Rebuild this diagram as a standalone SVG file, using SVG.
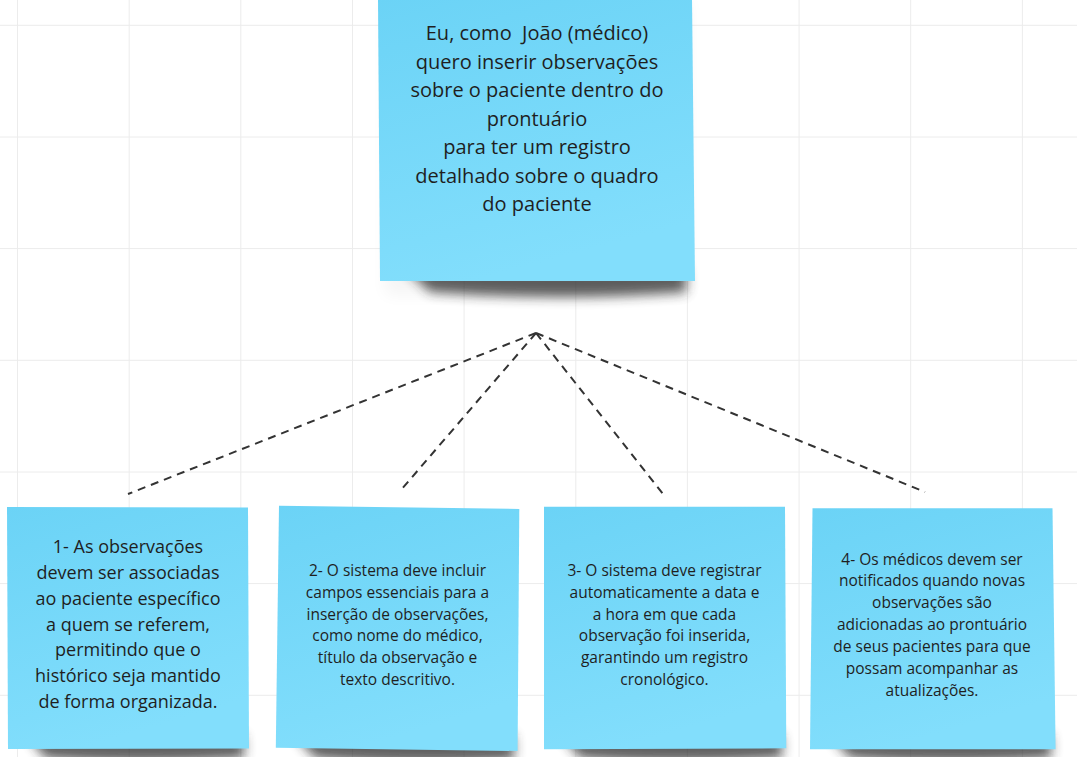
<svg xmlns="http://www.w3.org/2000/svg" width="1077" height="757" viewBox="0 0 1077 757">
<style>
.grid{stroke:#ececec;stroke-width:1;fill:none}
.note{fill:url(#noteGrad)}
.shadow{fill:#2a2a2a;opacity:0.75;filter:url(#blur)}
.glow{fill:#000;opacity:0.04;filter:url(#blurWide)}
.conn{stroke:#333;stroke-width:2;stroke-dasharray:8 6;fill:none}
.t{font-family:"Open Sans","Noto Sans","Liberation Sans",sans-serif;fill:#1f1f1f;text-anchor:middle}
.t20{font-size:20px}
.t18{font-size:18px}
.t15{font-size:15.5px}
</style>
<defs>
<linearGradient id="noteGrad" x1="0" y1="0" x2="0.3" y2="1">
<stop offset="0" stop-color="#6bd3f6"/>
<stop offset="1" stop-color="#82defc"/>
</linearGradient>
<filter id="blur" x="-20%" y="-100%" width="140%" height="300%"><feGaussianBlur stdDeviation="6"/></filter>
<filter id="blurWide" x="-20%" y="-20%" width="140%" height="140%"><feGaussianBlur stdDeviation="8"/></filter>
</defs>
<rect width="1077" height="757" fill="#ffffff"/>
<g id="grid">
<path class="grid" d="M17.5 0V757M129.2 0V757M240.8 0V757M352.5 0V757M464.1 0V757M575.8 0V757M687.4 0V757M799.1 0V757M910.7 0V757M1022.4 0V757M0 25.3H1077M0 137H1077M0 248.6H1077M0 360.3H1077M0 472H1077M0 583.6H1077M0 695.3H1077"/>
</g>
<g id="connectors">
<path class="conn" d="M536 333L128 494"/>
<path class="conn" d="M536 333L401 490"/>
<path class="conn" d="M536 333L663 494"/>
<path class="conn" d="M536 333L925 492"/>
</g>
<g id="story">
<rect class="glow" x="385" y="0" width="305" height="295"/>
<path class="shadow" d="M405 268H686V292Q560 302 430 292Z"/>
<polygon class="note" points="378,-2 692,-2 695,281 380,281"/>
<text class="t t20" style="white-space:pre" x="537" y="40">Eu, como  João (médico)</text>
<text class="t t20" x="537" y="68.5">quero inserir observações</text>
<text class="t t20" x="537" y="97">sobre o paciente dentro do</text>
<text class="t t20" x="537" y="125.5">prontuário</text>
<text class="t t20" x="537" y="154">para ter um registro</text>
<text class="t t20" x="537" y="182.5">detalhado sobre o quadro</text>
<text class="t t20" x="537" y="211">do paciente</text>
</g>
<g id="req1">
<path class="shadow" d="M28 735H244V758Q135 765 45 758Z"/>
<polygon class="note" points="7,507 248,507.5 249,748.5 8,749"/>
<text class="t t18" x="128" y="553">1- As observações</text>
<text class="t t18" x="128" y="579">devem ser associadas</text>
<text class="t t18" x="128" y="604.5">ao paciente específico</text>
<text class="t t18" x="128" y="630.5">a quem se referem,</text>
<text class="t t18" x="128" y="656">permitindo que o</text>
<text class="t t18" x="128" y="681.5">histórico seja mantido</text>
<text class="t t18" x="128" y="707.5">de forma organizada.</text>
</g>
<g id="req2">
<path class="shadow" d="M295 735H514V760Q405 766 315 758Z"/>
<polygon class="note" points="279,505.7 519.3,509 517.6,751 275.8,747.7"/>
<text class="t t15" x="397.5" y="575.5">2- O sistema deve incluir</text>
<text class="t t15" x="397.5" y="597.5">campos essenciais para a</text>
<text class="t t15" x="397.5" y="619.5">inserção de observações,</text>
<text class="t t15" x="397.5" y="641">como nome do médico,</text>
<text class="t t15" x="397.5" y="663">título da observação e</text>
<text class="t t15" x="397.5" y="684.5">texto descritivo.</text>
</g>
<g id="req3">
<path class="shadow" d="M562 735H782V758Q670 765 580 758Z"/>
<polygon class="note" points="544,506.7 785,506.7 786.3,748.3 544,749.3"/>
<text class="t t15" x="664.5" y="575.5">3- O sistema deve registrar</text>
<text class="t t15" x="664.5" y="597.5">automaticamente a data e</text>
<text class="t t15" x="664.5" y="619.5">a hora em que cada</text>
<text class="t t15" x="664.5" y="641">observação foi inserida,</text>
<text class="t t15" x="664.5" y="663">garantindo um registro</text>
<text class="t t15" x="664.5" y="684.5">cronológico.</text>
</g>
<g id="req4">
<path class="shadow" d="M830 735H1051V758Q940 765 850 758Z"/>
<polygon class="note" points="812.5,508.3 1052.5,508.3 1055.6,749.3 810,749.3"/>
<text class="t t15" x="932" y="564.5">4- Os médicos devem ser</text>
<text class="t t15" x="932" y="586">notificados quando novas</text>
<text class="t t15" x="932" y="608">observações são</text>
<text class="t t15" x="932" y="630">adicionadas ao prontuário</text>
<text class="t t15" x="932" y="652">de seus pacientes para que</text>
<text class="t t15" x="932" y="674">possam acompanhar as</text>
<text class="t t15" x="932" y="695.5">atualizações.</text>
</g>
</svg>
